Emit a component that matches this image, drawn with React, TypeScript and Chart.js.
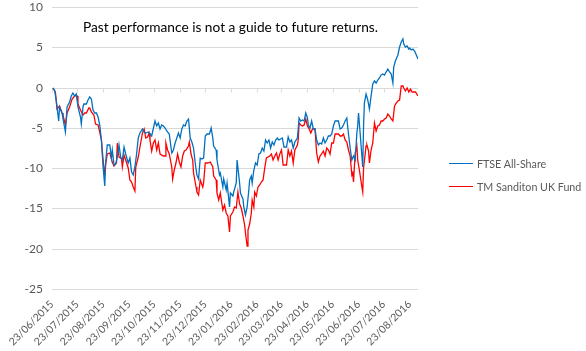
import React, { useEffect, useRef } from "react";
import { Chart, registerables } from "chart.js";

Chart.register(...registerables);

// Days since 23/06/2015 for each monthly tick
const tickDays = [0, 30, 61, 92, 122, 153, 183, 214, 245, 274, 305, 335, 366, 396, 427];
const tickLabels = [
  "23/06/2015", "23/07/2015", "23/08/2015", "23/09/2015", "23/10/2015",
  "23/11/2015", "23/12/2015", "23/01/2016", "23/02/2016", "23/03/2016",
  "23/04/2016", "23/05/2016", "23/06/2016", "23/07/2016", "23/08/2016",
];
const lastDay = 437;

const ftseDays = [
  1, 3, 5, 8, 9, 12, 13, 16, 18, 21, 23, 25, 27, 29, 31, 34, 35, 37, 38, 41,
  43, 45, 47, 49, 51, 53, 55, 57, 59, 61, 63, 64, 66, 69, 71, 72, 74, 76, 78, 80,
  82, 84, 86, 88, 91, 93, 95, 97, 99, 101, 103, 105, 108, 110, 112, 115, 119, 123, 125, 127,
  129, 131, 133, 135, 137, 140, 143, 145, 147, 149, 151, 153, 155, 157, 159, 161, 163, 165, 167, 169,
  171, 173, 175, 177, 179, 181, 183, 185, 188, 190, 192, 193, 196, 197, 200, 201, 204, 205, 208, 209,
  212, 213, 216, 217, 220, 221, 224, 225, 228, 229, 231, 233, 235, 236, 238, 239, 241, 243, 245, 247,
  249, 251, 253, 255, 257, 259, 261, 263, 265, 267, 269, 271, 273, 275, 277, 280, 282, 284, 286, 288,
  290, 293, 294, 295, 297, 299, 301, 303, 305, 306, 308, 310, 312, 314, 316, 318, 320, 322, 324, 326,
  328, 330, 332, 334, 336, 338, 342, 344, 346, 348, 350, 352, 354, 356, 358, 360, 362, 364, 365, 366,
  368, 370, 371, 372, 373, 375, 377, 379, 381, 383, 385, 387, 389, 391, 393, 395, 397, 399, 401, 403,
  405, 407, 408, 410, 413, 415, 417, 419, 420, 422, 424, 426, 427, 429, 431, 433, 435, 437,
];
const ftseValues = [
  0, -0.3, -1.6, -4.1, -2.4, -3.2, -3.8, -5.5, -2.4, -1.8, -1.0, -0.7, -1.0, -0.8, -2.4, -3.6, -4.5, -2.4, -2.0, -2.0,
  -1.6, -1.2, -1.4, -2.8, -3.2, -3.1, -3.6, -4.7, -6.5, -9.8, -12.2, -9.4, -7.1, -7.1, -8.8, -7.7, -9.6, -9.5, -8.6, -7.1,
  -8.6, -9.0, -7.4, -8.2, -9.4, -8.8, -10.5, -10.9, -9.8, -8.2, -6.3, -5.7, -5.1, -5.5, -5.7, -5.5, -6.0, -4.2, -4.8, -4.4,
  -5.2, -4.6, -4.8, -5.0, -5.4, -5.8, -8.1, -7.7, -6.9, -6.3, -5.6, -6.3, -5.2, -4.6, -4.8, -4.2, -3.9, -6.3, -6.7, -7.5,
  -9.4, -10.8, -11.3, -8.8, -8.9, -8.8, -6.0, -5.8, -5.8, -5.0, -6.3, -7.3, -7.7, -9.0, -10.8, -10.6, -12.3, -11.3, -12.7, -11.9,
  -14.8, -13.1, -13.5, -12.9, -11.9, -9.0, -11.9, -13.1, -13.8, -14.8, -15.8, -14.8, -12.7, -11.5, -11.0, -11.9, -10.2, -9.4, -9.6, -8.3,
  -8.1, -7.5, -7.9, -6.5, -6.9, -6.5, -7.5, -6.7, -7.1, -6.5, -6.3, -6.5, -6.4, -6.3, -7.4, -7.4, -6.1, -6.7, -6.5, -7.5,
  -6.7, -6.3, -5.2, -3.75, -4.2, -4.0, -4.2, -3.1, -3.75, -4.6, -5.0, -4.2, -5.2, -5.2, -6.5, -7.1, -6.9, -7.0, -6.3, -6.9,
  -6.5, -6.0, -6.0, -5.8, -4.8, -4.2, -4.2, -5.2, -5.0, -4.6, -4.2, -3.75, -5.8, -7.5, -9.0, -8.5, -9.0, -5.6, -4.8, -3.1,
  -5.8, -8.5, -9.8, -4.8, -1.9, -0.8, -1.5, -2.7, -1.0, 0.4, 0.8, 0.6, 1.0, 1.25, 1.5, 1.7, 1.5, 1.9, 2.3, 1.9,
  1.7, 0.6, 2.5, 3.3, 4.0, 5.0, 5.6, 6.0, 5.4, 5.0, 5.2, 4.8, 4.9, 4.7, 4.8, 4.6, 4.0, 3.6,
];

const fundDays = [
  1, 4, 6, 9, 12, 13, 16, 18, 21, 24, 26, 29, 30, 31, 34, 37, 39, 41, 44, 45,
  47, 50, 52, 55, 57, 59, 61, 63, 64, 66, 69, 72, 74, 77, 78, 80, 83, 84, 86, 88,
  91, 93, 95, 97, 99, 100, 103, 105, 108, 110, 112, 114, 116, 117, 119, 121, 123, 125, 127, 129,
  133, 135, 136, 138, 140, 143, 144, 146, 148, 150, 152, 154, 156, 158, 160, 163, 164, 166, 168, 169,
  172, 173, 175, 177, 180, 181, 183, 186, 189, 192, 193, 196, 197, 199, 201, 202, 204, 206, 208, 210,
  212, 213, 216, 218, 220, 222, 224, 226, 228, 230, 231, 233, 234, 236, 238, 239, 241, 242, 244, 246,
  248, 250, 252, 254, 256, 260, 262, 264, 266, 268, 270, 272, 274, 276, 280, 282, 284, 286, 288, 290,
  293, 294, 295, 297, 299, 301, 303, 305, 307, 309, 311, 314, 316, 318, 320, 322, 324, 326, 328, 330,
  332, 334, 336, 338, 342, 344, 346, 348, 350, 352, 354, 356, 358, 359, 360, 362, 364, 365, 367, 370,
  371, 372, 375, 376, 378, 379, 381, 383, 385, 387, 389, 391, 393, 395, 397, 399, 401, 403, 405, 407,
  409, 411, 413, 415, 417, 419, 420, 422, 424, 426, 428, 430, 432, 434, 437,
];
const fundValues = [
  0, -0.5, -2.6, -2.3, -3.2, -3.4, -4.7, -3.2, -2.4, -1.4, -1.2, -0.9, -1.0, -2.0, -2.8, -3.4, -3.2, -3.1, -2.5, -2.5,
  -3.0, -3.4, -4.5, -4.7, -5.5, -6.5, -9.0, -10.9, -9.6, -8.2, -8.1, -9.2, -9.7, -9.4, -6.9, -8.6, -8.9, -9.8, -8.4, -9.0,
  -10.0, -11.5, -11.7, -12.3, -12.8, -9.8, -8.6, -7.4, -5.7, -5.1, -6.3, -6.1, -5.7, -6.5, -7.9, -6.9, -6.5, -7.7, -6.9, -8.3,
  -8.5, -8.5, -6.9, -7.7, -8.3, -9.8, -11.3, -10.2, -9.4, -8.3, -9.2, -9.8, -8.5, -7.9, -7.7, -7.3, -6.7, -8.3, -9.0, -10.6,
  -12.3, -12.9, -13.3, -11.5, -12.3, -11.8, -9.4, -9.4, -9.2, -9.8, -11.0, -11.5, -13.1, -14.0, -13.1, -13.8, -15.2, -14.6, -15.6, -16.0,
  -17.9, -16.0, -15.4, -14.8, -15.0, -12.9, -14.4, -15.0, -16.0, -17.1, -18.1, -19.7, -17.7, -16.9, -15.6, -14.0, -14.8, -12.9, -13.5, -12.3,
  -12.1, -11.7, -11.5, -10.0, -8.8, -8.5, -8.3, -9.0, -8.5, -8.1, -9.0, -8.3, -7.7, -9.6, -9.6, -7.7, -8.5, -7.9, -9.4, -7.7,
  -7.1, -6.5, -4.4, -4.6, -4.8, -4.6, -3.9, -4.8, -5.2, -5.6, -5.2, -5.2, -8.1, -9.2, -8.5, -8.3, -7.9, -8.5, -7.5, -7.7,
  -8.3, -6.9, -6.9, -5.8, -5.8, -6.0, -6.0, -5.8, -6.5, -6.7, -7.7, -8.5, -10.8, -10.6, -11.7, -8.1, -7.3, -9.0, -10.2, -12.3,
  -12.9, -10.0, -7.3, -7.1, -7.9, -9.4, -7.7, -6.9, -4.4, -5.4, -4.8, -4.6, -4.2, -4.2, -3.9, -3.75, -3.3, -3.5, -3.9, -4.2,
  -2.3, -1.9, -1.7, -1.5, 0.2, 0.2, -0.1, -0.4, -0.1, -0.6, -0.2, -0.5, -0.5, -0.6, -1.0,
];

const seriesNames = ["FTSE All-Share", "TM Sanditon UK Fund"];
const seriesColors = ["#0070C0", "#FF0000"];
const titleText = "Past performance is not a guide to future returns.";

const yMin = -25;
const yMax = 10;
const yStep = 5;

const FONT = "Lato, 'Open Sans', sans-serif";

export default function App() {
  const canvasRef = useRef<HTMLCanvasElement | null>(null);

  useEffect(() => {
    const canvas = canvasRef.current;
    if (!canvas) return;

    const zeroAxisTicks = {
      id: "zeroAxisTicks",
      beforeDatasetsDraw(chart: any) {
        const { ctx, scales } = chart;
        const x = scales.x;
        const y = scales.y;
        const y0 = Math.round(y.getPixelForValue(0)) + 0.5;
        ctx.save();
        ctx.strokeStyle = "#d9d9d9";
        ctx.lineWidth = 1;
        ctx.beginPath();
        ctx.moveTo(chart.chartArea.left, y0);
        ctx.lineTo(chart.chartArea.right, y0);
        tickDays.forEach((d) => {
          const px = Math.round(x.getPixelForValue(d)) + 0.5;
          ctx.moveTo(px, y0);
          ctx.lineTo(px, y0 + 4);
        });
        ctx.stroke();
        ctx.restore();
      },
    };

    const chart = new Chart(canvas, {
      type: "line",
      data: {
        datasets: [
          {
            label: seriesNames[0],
            data: ftseDays.map((d, i) => ({ x: d, y: ftseValues[i] })),
            borderColor: seriesColors[0],
            backgroundColor: seriesColors[0],
            borderWidth: 1.3,
            pointRadius: 0,
            tension: 0,
          },
          {
            label: seriesNames[1],
            data: fundDays.map((d, i) => ({ x: d, y: fundValues[i] })),
            borderColor: seriesColors[1],
            backgroundColor: seriesColors[1],
            borderWidth: 1.3,
            pointRadius: 0,
            tension: 0,
          },
        ],
      },
      options: {
        responsive: false,
        animation: false,
        devicePixelRatio: 1,
        layout: { padding: { left: 8, top: 7, right: 168, bottom: 0 } },
        plugins: {
          legend: { display: false },
          tooltip: { enabled: false },
          title: { display: false },
        },
        scales: {
          x: {
            type: "linear",
            min: 0,
            max: lastDay,
            grid: { display: false, drawTicks: false },
            border: { display: false },
            afterBuildTicks: (axis: any) => {
              axis.ticks = tickDays.map((v) => ({ value: v }));
            },
            afterFit: (axis: any) => {
              axis.height = 62;
            },
            ticks: {
              autoSkip: false,
              maxRotation: 45,
              minRotation: 45,
              padding: 9,
              color: "#595959",
              font: { family: FONT, size: 10.5 },
              callback: (value: any) => {
                const i = tickDays.indexOf(Number(value));
                return i >= 0 ? tickLabels[i] : "";
              },
            },
          },
          y: {
            min: yMin,
            max: yMax,
            alignToPixels: true,
            grid: { color: "#d9d9d9", drawTicks: false },
            border: { display: false },
            afterFit: (axis: any) => {
              axis.width = 44;
              axis.paddingTop = 0;
              axis.paddingBottom = 0;
            },
            ticks: {
              stepSize: yStep,
              padding: 9,
              color: "#595959",
              font: { family: FONT, size: 12 },
            },
          },
        },
      },
      plugins: [zeroAxisTicks],
    } as any);

    return () => chart.destroy();
  }, []);

  return (
    <div style={{ position: "absolute", left: 0, top: 0, width: 586, height: 351, background: "#fff" }}>
      <canvas ref={canvasRef} width={586} height={351} style={{ position: "absolute", left: 0, top: 0 }} />
      <div
        style={{
          position: "absolute",
          left: 0,
          width: 461,
          top: 18,
          textAlign: "center",
          fontFamily: FONT,
          fontSize: 13.7,
          color: "#000",
          whiteSpace: "nowrap",
        }}
      >
        {titleText}
      </div>
      {seriesNames.map((name, i) => (
        <div
          key={name}
          style={{
            position: "absolute",
            left: 449,
            top: 155 + i * 23,
            display: "flex",
            alignItems: "center",
            fontFamily: FONT,
            fontSize: 10.7,
            color: "#595959",
            whiteSpace: "nowrap",
            height: 16,
          }}
        >
          <span style={{ display: "inline-block", width: 24, height: 0, borderTop: `1.5px solid ${seriesColors[i]}`, marginRight: 4 }} />
          <span>{name}</span>
        </div>
      ))}
    </div>
  );
}
